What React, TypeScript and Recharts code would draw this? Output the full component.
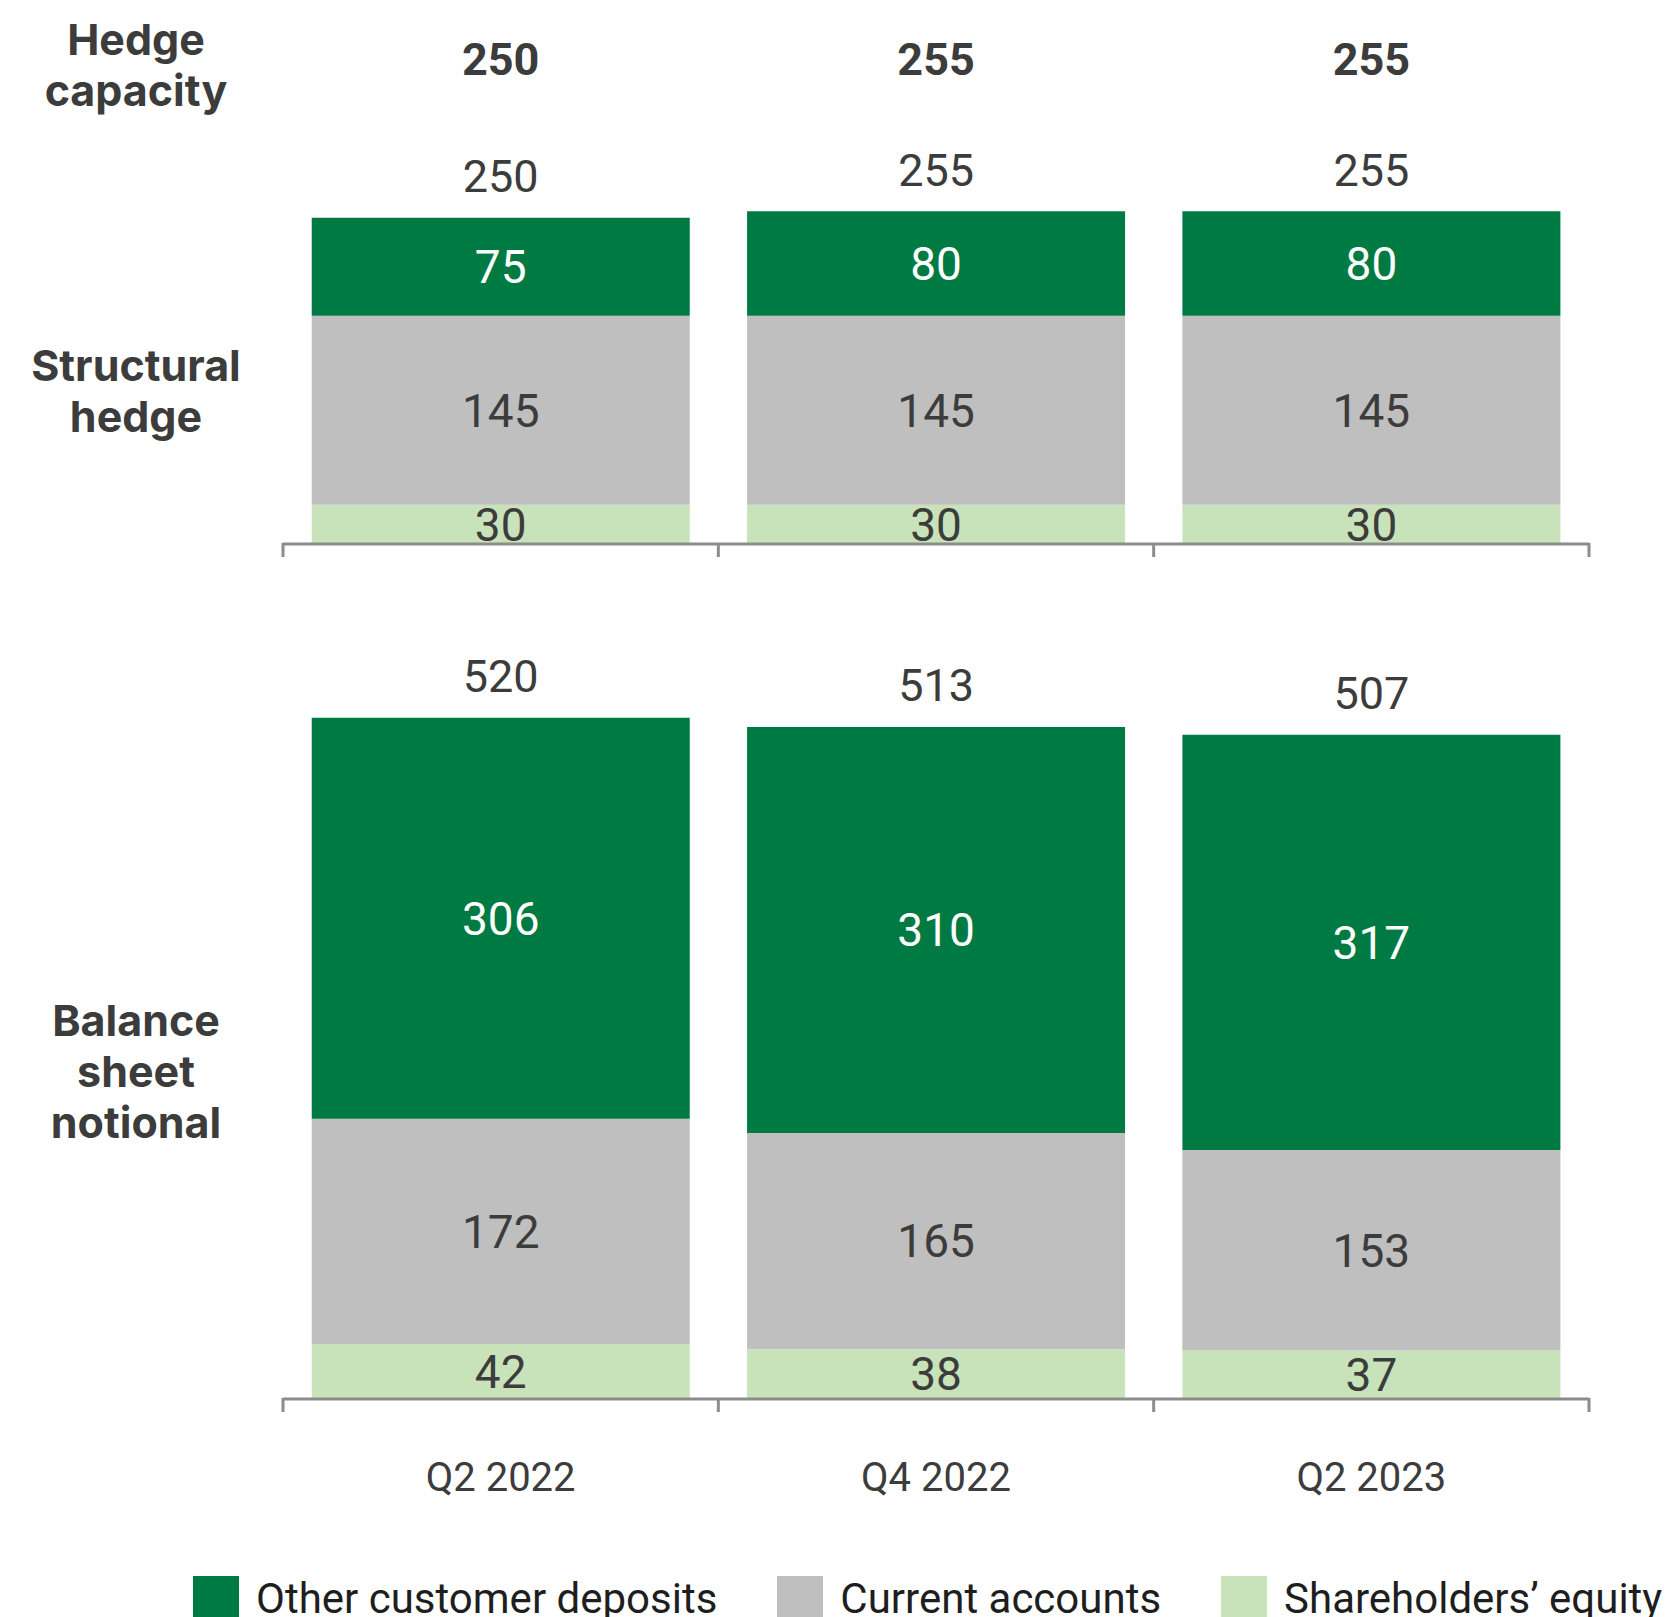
import React from "react";
import { BarChart, Bar, XAxis, YAxis, LabelList, Legend } from "recharts";

// data
const categories = ["Q2 2022", "Q4 2022", "Q2 2023"];
const hedgeCapacity = [250, 255, 255];
const hedgeEquity = [30, 30, 30];
const hedgeCurrent = [145, 145, 145];
const hedgeOther = [75, 80, 80];
const bsEquity = [42, 38, 37];
const bsCurrent = [172, 165, 153];
const bsOther = [306, 310, 317];
const seriesNames = ["Other customer deposits", "Current accounts", "Shareholders\u2019 equity"];

const DARK = "#007A43";
const GREY = "#BFBFBF";
const LIGHT = "#C8E3B9";
const TEXT = "#3C3C3C";
const AXIS = "#8C8C8C";
const seriesColors = [DARK, GREY, LIGHT];

const W = 1672;
const PLOT_LEFT = 283;
const PLOT_RIGHT = 83;
const HALF_BAND = (W - PLOT_LEFT - PLOT_RIGHT) / categories.length / 2;
const NUM_FONT = "Roboto, sans-serif";
const HEAD_FONT = "Inter, 'Open Sans', sans-serif";

const hedgeData = categories.map((c, i) => ({
  name: c,
  capacity: hedgeCapacity[i],
  equity: hedgeEquity[i],
  current: hedgeCurrent[i],
  other: hedgeOther[i],
  total: hedgeEquity[i] + hedgeCurrent[i] + hedgeOther[i],
}));

const bsData = categories.map((c, i) => ({
  name: c,
  equity: bsEquity[i],
  current: bsCurrent[i],
  other: bsOther[i],
  total: bsEquity[i] + bsCurrent[i] + bsOther[i],
}));

const makeTick = (showLabel: boolean) => (props: any) => {
  const { x, y, payload, index } = props;
  const last = index === categories.length - 1;
  return (
    <g>
      <line x1={x - HALF_BAND} x2={x - HALF_BAND} y1={y - 1} y2={y + 13} stroke={AXIS} strokeWidth={3} />
      {last && (
        <line x1={x + HALF_BAND} x2={x + HALF_BAND} y1={y - 1} y2={y + 13} stroke={AXIS} strokeWidth={3} />
      )}
      {showLabel && (
        <text x={x} y={y + 78} textAnchor="middle" dominantBaseline="central" fontSize={40} fontFamily={NUM_FONT} fill={TEXT}>
          {payload.value}
        </text>
      )}
    </g>
  );
};

const TotalLabel = (props: any) => {
  const { x, y, width, value } = props;
  return (
    <text x={x + width / 2} y={y - 41} textAnchor="middle" dominantBaseline="central" fontSize={45} fontFamily={NUM_FONT} fill={TEXT}>
      {value}
    </text>
  );
};

const CapacityLabel = (props: any) => {
  const { x, width, value } = props;
  return (
    <text x={x + width / 2} y={59} textAnchor="middle" dominantBaseline="central" fontSize={45} fontWeight={700} fontFamily={NUM_FONT} fill={TEXT}>
      {value}
    </text>
  );
};

const LegendContent = () => (
  <div style={{ display: "flex", alignItems: "flex-start", paddingLeft: 193 }}>
    {seriesNames.map((n, i) => (
      <div key={n} style={{ display: "flex", alignItems: "flex-start", marginRight: 60 }}>
        <div style={{ width: 46, height: 46, background: seriesColors[i], marginRight: 17 }} />
        <span style={{ fontFamily: NUM_FONT, fontSize: 42, color: "#1E1E1E", lineHeight: "46px", whiteSpace: "nowrap" }}>{n}</span>
      </div>
    ))}
  </div>
);

const sideLabel = (top: number, lines: string[]) => (
  <div
    style={{
      position: "absolute",
      left: 0,
      top,
      width: 272,
      textAlign: "center",
      fontFamily: HEAD_FONT,
      fontWeight: 700,
      fontSize: 43,
      lineHeight: "51px",
      color: TEXT,
    }}
  >
    {lines.map((l) => (
      <div key={l}>{l}</div>
    ))}
  </div>
);

const labelStyle = { fontSize: 46, fontFamily: NUM_FONT };

export default function App() {
  return (
    <div style={{ position: "absolute", left: 0, top: 0, width: W, height: 1617, overflow: "hidden", background: "#fff" }}>
      <div style={{ position: "absolute", left: 0, top: 0 }}>
        <BarChart width={W} height={620} data={hedgeData} margin={{ top: 150, right: PLOT_RIGHT, left: PLOT_LEFT, bottom: 36 }} barCategoryGap="6.6%">
          <XAxis dataKey="name" axisLine={{ stroke: AXIS, strokeWidth: 3 }} tickLine={false} tickSize={0} tickMargin={0} height={40} tick={makeTick(false)} interval={0} />
          <YAxis hide domain={[0, 302]} />
          <Bar dataKey="equity" stackId="a" fill={LIGHT} isAnimationActive={false}>
            <LabelList dataKey="equity" position="center" fill={TEXT} {...labelStyle} />
          </Bar>
          <Bar dataKey="current" stackId="a" fill={GREY} isAnimationActive={false}>
            <LabelList dataKey="current" position="center" fill={TEXT} {...labelStyle} />
          </Bar>
          <Bar dataKey="other" stackId="a" fill={DARK} isAnimationActive={false}>
            <LabelList dataKey="other" position="center" fill="#FFFFFF" {...labelStyle} />
            <LabelList dataKey="total" content={TotalLabel} />
            <LabelList dataKey="capacity" content={CapacityLabel} />
          </Bar>
        </BarChart>
      </div>
      <div style={{ position: "absolute", left: 0, top: 0 }}>
        <BarChart width={W} height={1617} data={bsData} margin={{ top: 664, right: PLOT_RIGHT, left: PLOT_LEFT, bottom: 108 }} barCategoryGap="6.6%">
          <XAxis dataKey="name" axisLine={{ stroke: AXIS, strokeWidth: 3 }} tickLine={false} tickSize={0} tickMargin={0} height={110} tick={makeTick(true)} interval={0} />
          <YAxis hide domain={[0, 561]} />
          <Bar dataKey="equity" stackId="a" fill={LIGHT} isAnimationActive={false}>
            <LabelList dataKey="equity" position="center" fill={TEXT} {...labelStyle} />
          </Bar>
          <Bar dataKey="current" stackId="a" fill={GREY} isAnimationActive={false}>
            <LabelList dataKey="current" position="center" fill={TEXT} {...labelStyle} />
          </Bar>
          <Bar dataKey="other" stackId="a" fill={DARK} isAnimationActive={false}>
            <LabelList dataKey="other" position="center" fill="#FFFFFF" {...labelStyle} />
            <LabelList dataKey="total" content={TotalLabel} />
          </Bar>
          <Legend
            layout="horizontal"
            verticalAlign="middle"
            align="center"
            content={LegendContent}
            wrapperStyle={{ position: "absolute", left: 0, top: 1576, width: W, height: 46 }}
          />
        </BarChart>
      </div>
      {sideLabel(14, ["Hedge", "capacity"])}
      {sideLabel(340, ["Structural", "hedge"])}
      {sideLabel(995, ["Balance", "sheet", "notional"])}
    </div>
  );
}
